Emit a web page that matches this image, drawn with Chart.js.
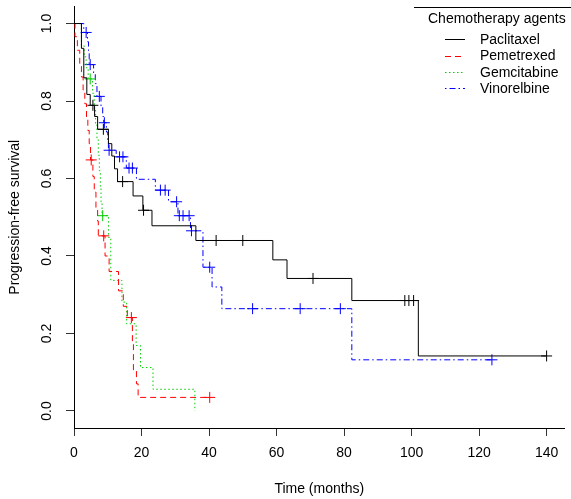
<!DOCTYPE html>
<html>
<head>
<meta charset="utf-8">
<script src="https://cdn.jsdelivr.net/npm/chart.js@4.4.0/dist/chart.umd.min.js"></script>
<style>
    html, body { margin: 0; padding: 0; background: #fff; }
    #wrap { width: 571px; height: 499px; }
</style>
</head>
<body>
<div id="wrap"><canvas id="km" width="571" height="499"></canvas></div>
<script>
// Axis ticks
const xTicks = [0, 20, 40, 60, 80, 100, 120, 140];
const yTicks = [0, 0.2, 0.4, 0.6, 0.8, 1.0];
const yTickLabels = ['0.0', '0.2', '0.4', '0.6', '0.8', '1.0'];

// Kaplan-Meier steps: time (months) where survival drops to the value
const paclitaxelTime = [0, 2.2, 2.9, 3.8, 4.8, 6.1, 7.0, 10.2, 11.2, 12.0, 12.9, 17.5, 20.4, 23.1, 36.1, 58.9, 63.1, 82.3, 102.0, 140.0];
const paclitaxelSurv = [1, 0.936, 0.86, 0.817, 0.789, 0.76, 0.727, 0.69, 0.658, 0.625, 0.592, 0.555, 0.518, 0.478, 0.44, 0.39, 0.342, 0.285, 0.142, 0.142];
const paclitaxelCensor = [5.6, 8.7, 14.4, 20.6, 42.1, 50.0, 70.8, 98.0, 99.2, 100.6, 140.0];

const pemetrexedTime = [0, 0.3, 1.0, 1.7, 2.2, 2.7, 3.2, 3.7, 4.1, 4.5, 4.9, 5.6, 6.0, 6.5, 7.0, 7.2, 9.2, 10.4, 13.2, 14.6, 15.8, 17.3, 17.6, 18.5, 19.0, 40.2];
const pemetrexedSurv = [1, 0.966, 0.931, 0.897, 0.862, 0.828, 0.793, 0.759, 0.724, 0.69, 0.648, 0.605, 0.565, 0.525, 0.49, 0.452, 0.40, 0.36, 0.31, 0.27, 0.241, 0.172, 0.104, 0.07, 0.035, 0.035];
const pemetrexedCensor = [5.1, 8.8, 17.0, 40.2];

const gemcitabineTime = [0, 2.2, 3.0, 3.6, 4.2, 5.5, 6.0, 6.4, 6.8, 7.2, 7.5, 7.8, 8.0, 8.3, 10.2, 10.9, 14.2, 15.6, 18.4, 19.7, 23.4, 35.8];
const gemcitabineSurv = [1, 0.943, 0.914, 0.886, 0.857, 0.82, 0.78, 0.74, 0.70, 0.66, 0.62, 0.58, 0.54, 0.504, 0.448, 0.337, 0.281, 0.225, 0.169, 0.112, 0.056, 0];
const gemcitabineCensor = [4.8, 8.5];

const vinorelbineTime = [0, 2.9, 4.0, 4.3, 4.5, 5.8, 6.3, 6.8, 8.0, 8.5, 8.8, 9.6, 10.0, 10.2, 12.5, 15.5, 18.5, 24.1, 28.0, 30.8, 34.5, 38.2, 40.9, 43.8, 82.3, 123.8];
const vinorelbineSurv = [1, 0.977, 0.953, 0.93, 0.894, 0.87, 0.845, 0.812, 0.787, 0.76, 0.744, 0.72, 0.695, 0.673, 0.656, 0.627, 0.598, 0.57, 0.54, 0.504, 0.465, 0.371, 0.32, 0.264, 0.132, 0.132];
const vinorelbineCensor = [3.6, 4.8, 7.5, 9.0, 10.4, 13.5, 14.5, 16.3, 17.3, 25.6, 27.0, 30.4, 31.2, 32.3, 34.1, 34.8, 40.2, 52.9, 67.0, 78.9, 123.8];

const FONT = '"Liberation Sans", Arial, sans-serif';
const FONT_SIZE = 14;

const agents = [
    { name: 'Paclitaxel', time: paclitaxelTime, surv: paclitaxelSurv, censor: paclitaxelCensor, color: '#000000', dash: [] },
    { name: 'Pemetrexed', time: pemetrexedTime, surv: pemetrexedSurv, censor: pemetrexedCensor, color: '#ff0000', dash: [6, 4] },
    { name: 'Gemcitabine', time: gemcitabineTime, surv: gemcitabineSurv, censor: gemcitabineCensor, color: '#00cd00', dash: [1.5, 2.5] },
    { name: 'Vinorelbine', time: vinorelbineTime, surv: vinorelbineSurv, censor: vinorelbineCensor, color: '#0000ff', dash: [1.5, 3, 6, 3] }
];

// survival value of the step curve at time t (used to place censor marks)
function survAt(times, surv, t) {
    let s = surv[0];
    for (let i = 0; i < times.length; i++) {
        if (times[i] <= t) s = surv[i];
    }
    return s;
}

const datasets = [];
agents.forEach(a => {
    datasets.push({
        type: 'line',
        label: a.name,
        data: a.time.map((t, i) => ({ x: t, y: a.surv[i] })),
        stepped: 'before',   // horizontal first, then the drop
        borderColor: a.color,
        borderWidth: 1,
        borderDash: a.dash,
        pointRadius: 0,
        fill: false
    });
    datasets.push({
        type: 'scatter',
        label: a.name + ' censored',
        data: a.censor.map(t => ({ x: t, y: survAt(a.time, a.surv, t) })),
        pointStyle: 'cross',
        pointRadius: 5.5,
        borderColor: a.color,
        backgroundColor: a.color,
        borderWidth: 1,
        showLine: false
    });
});

// R-style extras: rotated y labels, axis titles, legend
const rStylePlugin = {
    id: 'rStyle',
    afterDraw(chart) {
        const ctx = chart.ctx;
        const yScale = chart.scales.y;
        const area = chart.chartArea;
        ctx.save();
        ctx.fillStyle = '#000';
        ctx.font = FONT_SIZE + 'px ' + FONT;
        ctx.textAlign = 'center';
        ctx.textBaseline = 'middle';

        // y tick labels, vertical
        yTicks.forEach((v, i) => {
            ctx.save();
            ctx.translate(47, yScale.getPixelForValue(v));
            ctx.rotate(-Math.PI / 2);
            ctx.fillText(yTickLabels[i], 0, 0);
            ctx.restore();
        });

        // axis titles
        ctx.save();
        ctx.translate(15, (area.top + area.bottom) / 2);
        ctx.rotate(-Math.PI / 2);
        ctx.fillText('Progression-free survival', 0, 0);
        ctx.restore();
        ctx.fillText('Time (months)', (area.left + area.right) / 2, 489);

        // legend
        ctx.strokeStyle = '#000';
        ctx.lineWidth = 1;
        ctx.beginPath();
        ctx.moveTo(414, 7.5);
        ctx.lineTo(571, 7.5);
        ctx.stroke();

        ctx.textAlign = 'left';
        ctx.fillText('Chemotherapy agents', 428, 19.5);
        const rowY = [40, 56.5, 73, 89];
        agents.forEach((a, i) => {
            const y = Math.round(rowY[i]) - 0.5;
            ctx.beginPath();
            ctx.setLineDash(a.dash);
            ctx.strokeStyle = a.color;
            ctx.moveTo(445, y);
            ctx.lineTo(465, y);
            ctx.stroke();
            ctx.setLineDash([]);
            ctx.fillText(a.name, 480, rowY[i]);
        });
        ctx.restore();
    }
};

new Chart(document.getElementById('km'), {
    type: 'line',
    data: { datasets: datasets },
    options: {
        responsive: false,
        animation: false,
        layout: { padding: { top: 5, right: 0, left: 0, bottom: 0 } },
        plugins: {
            legend: { display: false },
            tooltip: { enabled: false }
        },
        scales: {
            x: {
                type: 'linear',
                min: 0,
                max: 145.3,
                afterBuildTicks: scale => { scale.ticks = xTicks.map(v => ({ value: v })); },
                afterFit: scale => { scale.height = 71; },
                ticks: {
                    color: '#000',
                    font: { family: FONT, size: FONT_SIZE },
                    padding: 9,
                    maxRotation: 0,
                    autoSkip: false
                },
                grid: { display: true, drawOnChartArea: false, drawTicks: true, tickLength: 8, color: '#333' },
                border: { display: true, color: '#000', width: 1 }
            },
            y: {
                type: 'linear',
                min: -0.044,
                max: 1.044,
                afterBuildTicks: scale => { scale.ticks = yTicks.map(v => ({ value: v })); },
                afterFit: scale => { scale.width = 74; },
                ticks: { display: false },
                grid: { display: true, drawOnChartArea: false, drawTicks: true, tickLength: 8, color: '#333' },
                border: { display: true, color: '#000', width: 1 }
            }
        }
    },
    plugins: [rStylePlugin]
});
</script>
</body>
</html>
